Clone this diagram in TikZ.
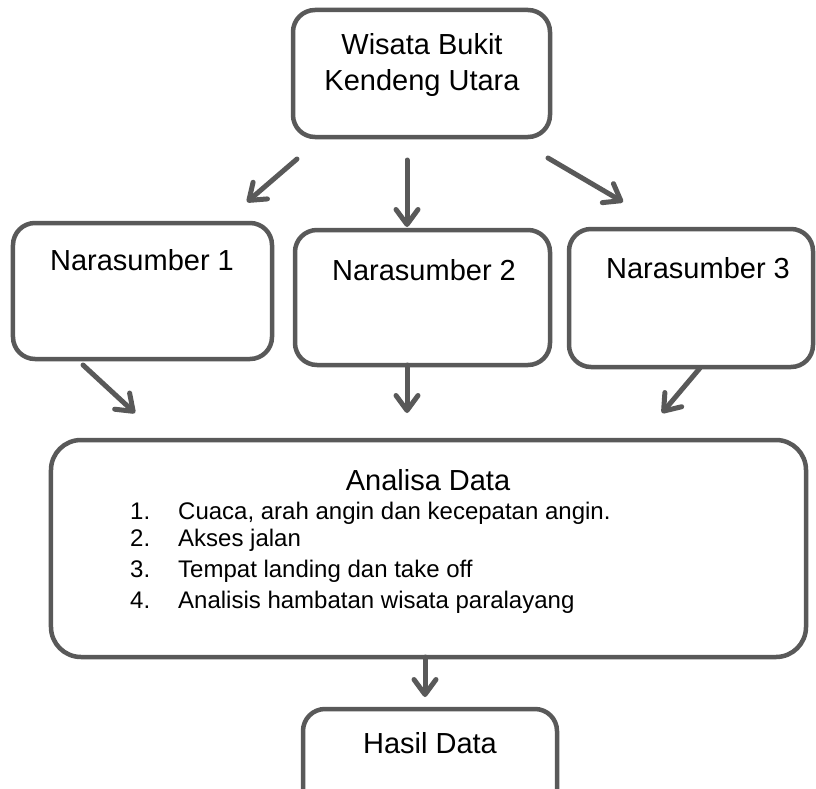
\documentclass[tikz,border=0pt]{standalone}
\usepackage{fontspec}
\setmainfont{Liberation Sans}
\usetikzlibrary{arrows.meta}
\definecolor{edge}{HTML}{595959}
\tikzset{
  box/.style={draw=edge, line width=4.5bp, rounded corners=22bp, inner sep=0pt},
  bigbox/.style={box, rounded corners=30bp},
  conn/.style={draw=edge, line width=5bp, line cap=round, line join=round,
    -{Straight Barb[length=15bp, width=22bp, round]}},
  head/.style={anchor=base, inner sep=0pt, font=\fontsize{29bp}{34bp}\selectfont},
  item/.style={anchor=base west, inner sep=0pt, font=\fontsize{24bp}{28bp}\selectfont}
}
\begin{document}
\begin{tikzpicture}[x=1bp, y=-1bp]
\useasboundingbox (0,0) rectangle (816,789);
% boxes
\node[box, minimum width=257bp, minimum height=127bp] (top) at (421.5,73.5) {};
\node[box, minimum width=259bp, minimum height=136bp] (n1) at (142.5,291) {};
\node[box, minimum width=255bp, minimum height=135bp] (n2) at (422.5,297.5) {};
\node[box, minimum width=244bp, minimum height=138bp] (n3) at (691,298) {};
\node[bigbox, minimum width=755bp, minimum height=217bp] (ana) at (428.5,548.5) {};
\node[box, minimum width=254bp, minimum height=140bp] (has) at (430,779) {};
% texts
\node[head] (t1) at (422,55) {Wisata Bukit};
\node[head] (t2) at (422,90) {Kendeng Utara};
\node[head] (tn1) at (142,270) {Narasumber 1};
\node[head] (tn2) at (424,280) {Narasumber 2};
\node[head] (tn3) at (698,278) {Narasumber 3};
\node[head] (ta) at (428,490) {Analisa Data};
\node[item] (i1n) at (130,519) {1.};
\node[item] (i1) at (178,519) {Cuaca, arah angin dan kecepatan angin.};
\node[item] (i2n) at (130,546) {2.};
\node[item] (i2) at (178,546) {Akses jalan};
\node[item] (i3n) at (130,577) {3.};
\node[item] (i3) at (178,577) {Tempat landing dan take off};
\node[item] (i4n) at (130,608) {4.};
\node[item] (i4) at (178,608) {Analisis hambatan wisata paralayang};
\node[head] (th) at (430,753) {Hasil Data};
% arrow end points
\coordinate (a1s) at (297,159); \coordinate (a1e) at (247,202);
\coordinate (a2s) at (407,160); \coordinate (a2e) at (407,227);
\coordinate (a3s) at (548,158); \coordinate (a3e) at (623,202);
\coordinate (b1s) at (83,365);  \coordinate (b1e) at (135,413);
\coordinate (b2s) at (407,365); \coordinate (b2e) at (407,413);
\coordinate (b3s) at (700,368); \coordinate (b3e) at (662,413);
\coordinate (cs) at (425,657);  \coordinate (ce) at (425,697);
\draw[conn] (a1s) -- (a1e);
\draw[conn] (a2s) -- (a2e);
\draw[conn] (a3s) -- (a3e);
\draw[conn] (b1s) -- (b1e);
\draw[conn] (b2s) -- (b2e);
\draw[conn] (b3s) -- (b3e);
\draw[conn] (cs) -- (ce);
\end{tikzpicture}
\end{document}
